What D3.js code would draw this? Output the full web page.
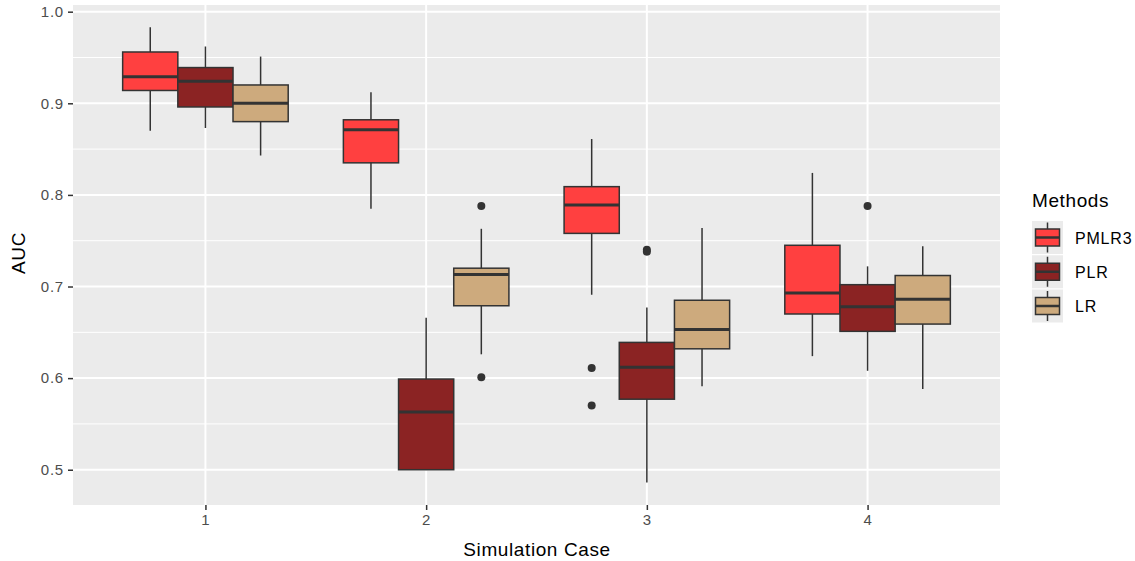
<!DOCTYPE html>
<html>
<head>
<meta charset="utf-8">
<script src="https://cdn.jsdelivr.net/npm/d3@7"></script>
<style>
  body { margin: 0; background: #fff; }
  text { font-family: "Liberation Sans", Arial, sans-serif; }
</style>
</head>
<body>
<svg id="chart" width="1135" height="561"></svg>
<script>
// simulation cases and methods
const cases = ["1", "2", "3", "4"];
const methods = ["PMLR3", "PLR", "LR"];
const methodColors = ["#FF4040", "#8B2323", "#CDAA7D"];

// box stats per method, one entry per case: [lower whisker, q1, median, q3, upper whisker]
const pmlr3Stats = [
  [0.870, 0.914, 0.929, 0.956, 0.983],
  [0.785, 0.835, 0.871, 0.882, 0.912],
  [0.691, 0.758, 0.789, 0.809, 0.861],
  [0.624, 0.670, 0.693, 0.745, 0.824]
];
const plrStats = [
  [0.873, 0.896, 0.924, 0.939, 0.962],
  [0.500, 0.500, 0.563, 0.599, 0.666],
  [0.486, 0.577, 0.612, 0.639, 0.677],
  [0.608, 0.651, 0.678, 0.702, 0.722]
];
const lrStats = [
  [0.843, 0.880, 0.900, 0.920, 0.951],
  [0.626, 0.679, 0.713, 0.720, 0.763],
  [0.591, 0.632, 0.653, 0.685, 0.764],
  [0.588, 0.659, 0.686, 0.712, 0.744]
];
// outliers per method, per case
const pmlr3Outliers = [[], [], [0.611, 0.570], []];
const plrOutliers = [[], [], [0.740, 0.738], [0.788]];
const lrOutliers = [[], [0.788, 0.601], [], []];

const yTicks = [0.5, 0.6, 0.7, 0.8, 0.9, 1.0];
const yMinor = [0.55, 0.65, 0.75, 0.85, 0.95];

const allStats = [pmlr3Stats, plrStats, lrStats];
const allOutliers = [pmlr3Outliers, plrOutliers, lrOutliers];

const svg = d3.select("#chart");
const panel = { left: 73, right: 1000, top: 5, bottom: 505 };

const x = d3.scalePoint().domain(cases).range([panel.left, panel.right]).padding(0.6);
const dodge = d3.scaleBand().domain(methods)
  .range([-0.375 * x.step(), 0.375 * x.step()]);
const y = d3.scaleLinear().domain([0.4615, 1.0073]).range([panel.bottom, panel.top]);

// panel background + grid
svg.append("rect")
  .attr("x", panel.left).attr("y", panel.top)
  .attr("width", panel.right - panel.left).attr("height", panel.bottom - panel.top)
  .attr("fill", "#EBEBEB");

svg.append("g").selectAll("line").data(yMinor).join("line")
  .attr("x1", panel.left).attr("x2", panel.right)
  .attr("y1", d => y(d)).attr("y2", d => y(d))
  .attr("stroke", "#fff").attr("stroke-width", 1);
svg.append("g").selectAll("line").data(yTicks).join("line")
  .attr("x1", panel.left).attr("x2", panel.right)
  .attr("y1", d => y(d)).attr("y2", d => y(d))
  .attr("stroke", "#fff").attr("stroke-width", 2);
svg.append("g").selectAll("line").data(cases).join("line")
  .attr("x1", d => x(d)).attr("x2", d => x(d))
  .attr("y1", panel.top).attr("y2", panel.bottom)
  .attr("stroke", "#fff").attr("stroke-width", 2);

// axes
const yAxis = svg.append("g")
  .attr("transform", `translate(${panel.left},0)`)
  .call(d3.axisLeft(y).tickValues(yTicks).tickFormat(d3.format(".1f")).tickSize(5).tickPadding(4));
const xAxis = svg.append("g")
  .attr("transform", `translate(0,${panel.bottom})`)
  .call(d3.axisBottom(x).tickSize(5).tickPadding(4));
[yAxis, xAxis].forEach(ax => {
  ax.select(".domain").remove();
  ax.selectAll(".tick line").attr("stroke", "#333").attr("stroke-width", 1.5);
  ax.selectAll(".tick text").attr("fill", "#4D4D4D")
    .style("font-size", "15px").style("letter-spacing", "0.8px")
    .style("font-family", "Liberation Sans, Arial, sans-serif");
});

// boxes
methods.forEach((m, mi) => {
  const g = svg.append("g");
  const bw = dodge.bandwidth();
  const cx = c => x(c) + dodge(m) + bw / 2;
  const rows = cases.map((c, ci) => ({ c, s: allStats[mi][ci], out: allOutliers[mi][ci] }));

  g.selectAll(".whisk").data(rows).join("line")
    .attr("x1", d => cx(d.c)).attr("x2", d => cx(d.c))
    .attr("y1", d => y(d.s[0])).attr("y2", d => y(d.s[4]))
    .attr("stroke", "#333").attr("stroke-width", 1.5);
  g.selectAll(".box").data(rows).join("rect")
    .attr("x", d => x(d.c) + dodge(m)).attr("width", bw)
    .attr("y", d => y(d.s[3])).attr("height", d => y(d.s[1]) - y(d.s[3]))
    .attr("fill", methodColors[mi]).attr("stroke", "#333").attr("stroke-width", 1.5);
  g.selectAll(".med").data(rows).join("line")
    .attr("x1", d => x(d.c) + dodge(m)).attr("x2", d => x(d.c) + dodge(m) + bw)
    .attr("y1", d => y(d.s[2])).attr("y2", d => y(d.s[2]))
    .attr("stroke", "#333").attr("stroke-width", 3);
  g.selectAll(".out")
    .data(rows.flatMap(d => d.out.map(v => ({ c: d.c, v }))))
    .join("circle")
    .attr("cx", d => cx(d.c)).attr("cy", d => y(d.v)).attr("r", 4)
    .attr("fill", "#333");
});

// axis titles
svg.append("text")
  .attr("x", 537).attr("y", 556)
  .attr("text-anchor", "middle").style("font-size", "19px").style("letter-spacing", "0.6px")
  .attr("fill", "#000")
  .text("Simulation Case");
svg.append("text")
  .attr("transform", "translate(25,253) rotate(-90)")
  .attr("text-anchor", "middle").style("font-size", "19px").style("letter-spacing", "0.6px")
  .attr("fill", "#000")
  .text("AUC");

// legend
const leg = svg.append("g");
leg.append("text").attr("x", 1032).attr("y", 207)
  .style("font-size", "19px").style("letter-spacing", "0.6px")
  .attr("fill", "#000").text("Methods");
const keyY = d3.scalePoint().domain(methods).range([237.5, 306]);
methods.forEach((m, mi) => {
  const cy = keyY(m);
  const k = leg.append("g");
  k.append("rect").attr("x", 1032).attr("y", cy - 16.5).attr("width", 31).attr("height", 33)
    .attr("fill", "#EBEBEB");
  k.append("line").attr("x1", 1047.5).attr("x2", 1047.5).attr("y1", cy - 15).attr("y2", cy + 15)
    .attr("stroke", "#333").attr("stroke-width", 1.5);
  k.append("rect").attr("x", 1035.5).attr("y", cy - 8.5).attr("width", 24).attr("height", 17)
    .attr("fill", methodColors[mi]).attr("stroke", "#333").attr("stroke-width", 1.5);
  k.append("line").attr("x1", 1035.5).attr("x2", 1059.5).attr("y1", cy).attr("y2", cy)
    .attr("stroke", "#333").attr("stroke-width", 2.5);
  k.append("text").attr("x", 1075).attr("y", cy + 6)
    .style("font-size", "16px").style("letter-spacing", "0.8px")
    .attr("fill", "#000").text(m);
});
</script>
</body>
</html>
